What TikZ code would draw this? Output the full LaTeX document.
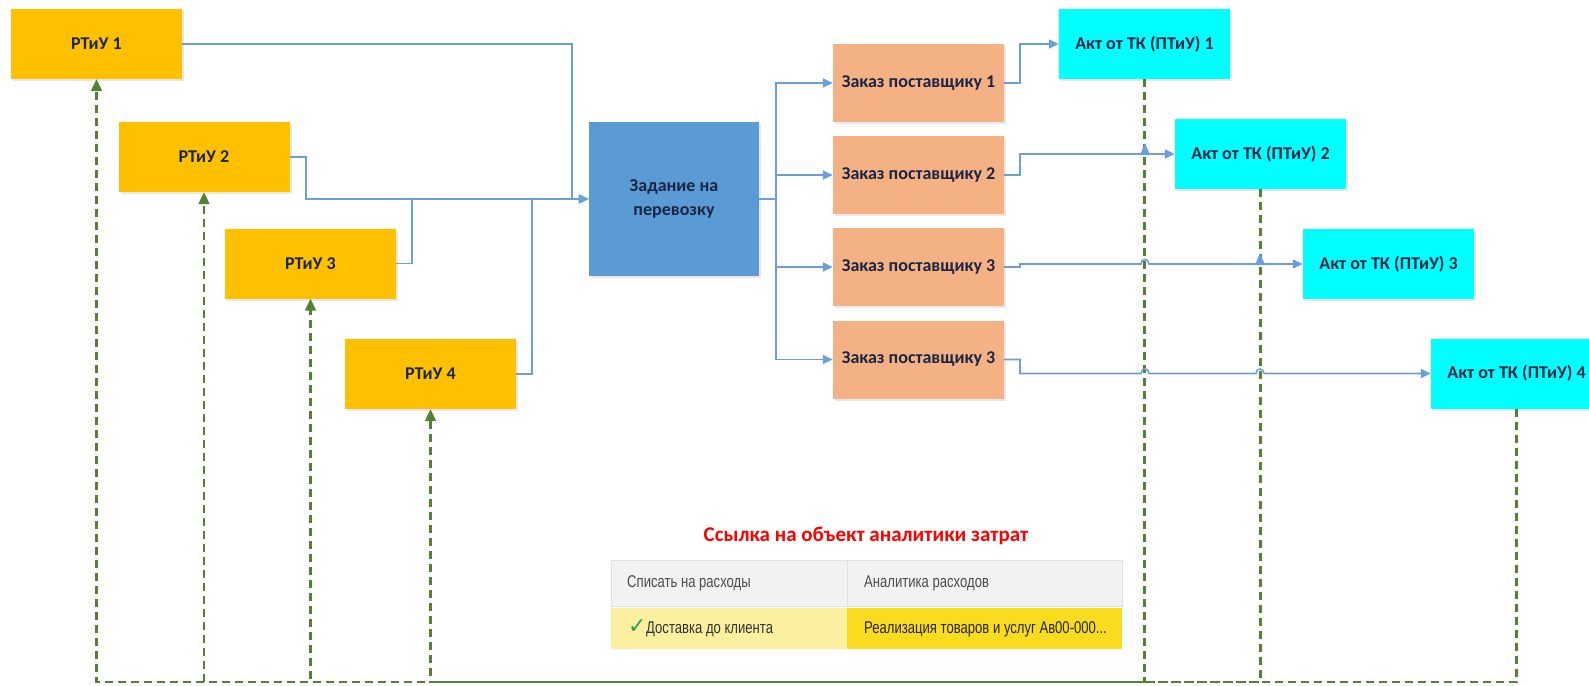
\documentclass[tikz,border=0pt]{standalone}
\usepackage{fontspec}
\setmainfont{Carlito}
\newfontfamily\tabfont[FakeStretch=0.77]{Liberation Sans}
\newfontfamily\symfont{DejaVu Sans}
\usetikzlibrary{arrows.meta,shadows}
\definecolor{gold}{HTML}{FFC000}
\definecolor{boxblue}{HTML}{5B9BD5}
\definecolor{salmon}{HTML}{F4B183}
\definecolor{aqua}{HTML}{00FFFF}
\definecolor{navy}{HTML}{1B2545}
\definecolor{lineblue}{HTML}{6A9FD8}
\definecolor{dgreen}{HTML}{548235}
\definecolor{hdrgray}{HTML}{F2F2F2}
\definecolor{lightyel}{HTML}{FBEFA0}
\definecolor{brightyel}{HTML}{F9DB1F}
\definecolor{chk}{HTML}{2E9E4F}
\tikzset{
  basebox/.style={rectangle, minimum width=171pt, minimum height=70pt, inner sep=0pt,
    font=\fontsize{18}{24}\selectfont\bfseries, text=navy,
    drop shadow={opacity=0.18, shadow xshift=2pt, shadow yshift=-2pt}},
  rbox/.style={basebox, fill=gold},
  zbox/.style={basebox, fill=boxblue, minimum width=170pt, minimum height=154pt, align=center},
  obox/.style={basebox, fill=salmon, minimum height=78pt},
  abox/.style={basebox, fill=aqua},
  bl/.style={draw=lineblue, line width=1.6pt},
  blarr/.style={bl, -{Triangle[length=10pt,width=9pt]}},
  gd/.style={draw=dgreen, line width=2.2pt, dash pattern=on 8pt off 5pt},
  gdarr/.style={gd, -{Triangle[length=12pt,width=11pt]}},
  cell/.style={rectangle, inner sep=0pt, minimum height=46pt},
  celltext/.style={anchor=west, inner sep=0pt, font=\tabfont\fontsize{17}{19}\selectfont},
}
\begin{document}
\begin{tikzpicture}[x=1pt,y=-1pt]
\useasboundingbox (0,0) rectangle (1589,685);

% RTiU boxes
\node[rbox] (r1) at (96.5,44) {РТиУ 1};
\node[rbox] (r2) at (204,157) {РТиУ 2};
\node[rbox] (r3) at (310.5,263.5) {РТиУ 3};
\node[rbox] (r4) at (430.5,374) {РТиУ 4};

% central task
\node[zbox] (zad) at (674,199) {Задание на\\перевозку};

% orders
\node[obox] (z1) at (918.5,83) {Заказ поставщику 1};
\node[obox] (z2) at (918.5,175) {Заказ поставщику 2};
\node[obox] (z3) at (918.5,267) {Заказ поставщику 3};
\node[obox] (z4) at (918.5,359.5) {Заказ поставщику 3};

% acts
\node[abox] (a1) at (1144.5,44) {Акт от ТК (ПТиУ) 1};
\node[abox] (a2) at (1260.5,154) {Акт от ТК (ПТиУ) 2};
\node[abox] (a3) at (1388.5,264) {Акт от ТК (ПТиУ) 3};
\node[abox] (a4) at (1516.5,373.5) {Акт от ТК (ПТиУ) 4};

% junction coordinates
\coordinate (j1) at (572,199);
\coordinate (j3) at (412,199);
\coordinate (j4) at (532,199);
\coordinate (bz) at (776,199);
\coordinate (bot) at (0,682);
\coordinate (m4) at (r4.south |- bot);

% green dashed feedback lines
\draw[gdarr] (a4.south) -- (a4.south |- bot) -| (r1.south);
\draw[gdarr] (a4.south) -- (a4.south |- bot) -| (r2.south);
\draw[gdarr] (a4.south) -- (a4.south |- bot) -| (r3.south);
\draw[gdarr] (a4.south) -- (a4.south |- bot) -| (r4.south);
\draw[gd] (a1.south) -- (a1.south |- bot) -- (m4);
\draw[gd] (a2.south) -- (a2.south |- bot) -- (m4);

% blue inputs to the task
\draw[blarr] (r1.east) -| (j1) -- (zad.west);
\draw[blarr] (r2.east) -- ++(16,0) |- (zad.west);
\draw[bl] (r3.east) -| (j3);
\draw[bl] (r4.east) -| (j4);

% task to orders
\draw[blarr] (zad.east) -- (bz) |- (z1.west);
\draw[blarr] (zad.east) -- (bz) |- (z2.west);
\draw[blarr] (zad.east) -- (bz) |- (z3.west);
\draw[blarr] (zad.east) -- (bz) |- (z4.west);

% orders to acts
\draw[blarr] (z1.east) -- ++(16,0) |- (a1.west);
\draw[blarr] (z2.east) -- ++(16,0) |- (a2.west);
\draw[blarr] (z3.east) -- (1020,267) -- (1020,264) -- (1141,264)
  .. controls (1141,258) and (1149,258) .. (1149,264) -- (a3.west);
\draw[blarr] (z4.east) -- (1020,359.5) -- (1020,373.5) -- (1141,373.5)
  .. controls (1141,367.5) and (1149,367.5) .. (1149,373.5) -- (1256,373.5)
  .. controls (1256,367.5) and (1264,367.5) .. (1264,373.5) -- (a4.west);
% crossing markers
\fill[lineblue] (1145,143) -- (1150,155) -- (1140,155) -- cycle;
\fill[lineblue] (1260,253) -- (1265,265) -- (1255,265) -- cycle;

% table
\node[font=\fontsize{21}{24}\selectfont\bfseries, text=red] (ttl) at (866,536) {Ссылка на объект аналитики затрат};
\node[cell, fill=hdrgray, draw=black!12, minimum width=236pt] (h1) at (729,583) {};
\node[cell, fill=hdrgray, draw=black!12, minimum width=275pt] (h2) at (984.5,583) {};
\node[cell, fill=lightyel, minimum width=236pt, minimum height=41pt] (d1) at (729,628.5) {};
\node[cell, fill=brightyel, minimum width=275pt, minimum height=41pt] (d2) at (984.5,628.5) {};
\node[celltext, text=black!70] (t1) at (627,583) {Списать на расходы};
\node[celltext, text=black!70] (t2) at (864,583) {Аналитика расходов};
\node[anchor=west, inner sep=0pt, text=chk, font=\symfont\fontsize{22}{24}\selectfont\bfseries] (ck) at (628,627) {✓};
\node[celltext, text=black!80] (t3) at (646,629) {Доставка до клиента};
\node[celltext, text=black!85] (t4) at (864,629) {Реализация товаров и услуг Ав00-000...};
\end{tikzpicture}
\end{document}
